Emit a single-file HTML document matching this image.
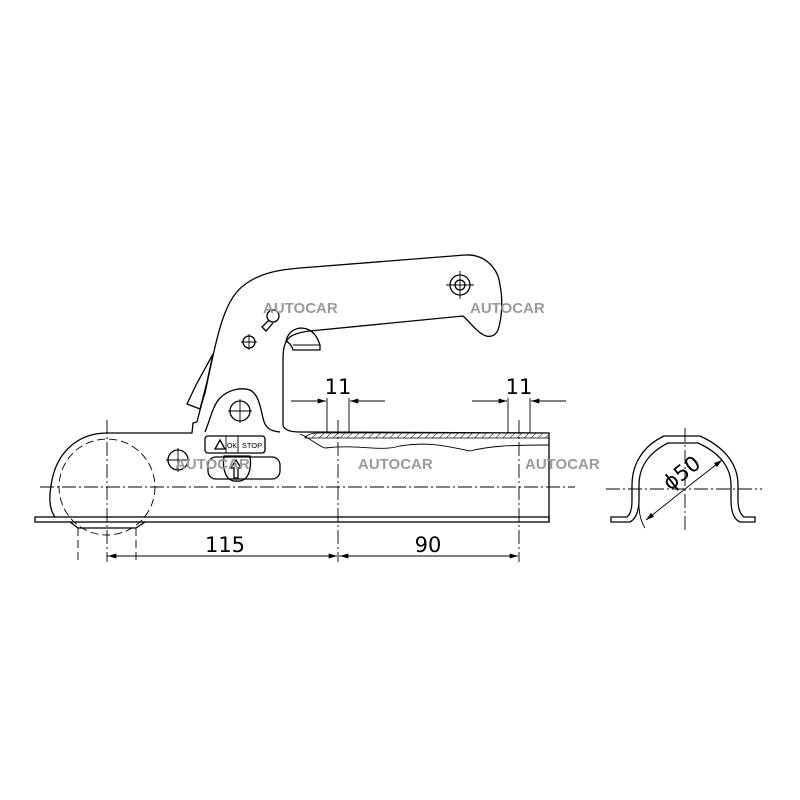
<!DOCTYPE html>
<html><head><meta charset="utf-8"><style>
html,body{margin:0;padding:0;background:#fff;}
svg{display:block;}
.l{fill:none;stroke:#000;stroke-width:1.3;}
.t{fill:none;stroke:#000;stroke-width:0.9;}
.c{fill:none;stroke:#000;stroke-width:0.9;stroke-dasharray:14 3 2 3;}
.d{fill:none;stroke:#000;stroke-width:0.9;stroke-dasharray:8 4;}
.w{font-family:"Liberation Sans",sans-serif;font-weight:bold;font-size:15px;fill:#9a9a9a;}
.n{font-family:"DejaVu Sans","Liberation Sans",sans-serif;font-size:21px;fill:#000;}
</style></head><body>
<svg width="800" height="800" viewBox="0 0 800 800" xmlns="http://www.w3.org/2000/svg">
<defs>
<marker id="a" viewBox="0 0 10 6" refX="10" refY="3" markerWidth="12" markerHeight="5" orient="auto" markerUnits="userSpaceOnUse"><path d="M0,0 L10,3 L0,6 z" fill="#000"/></marker>
<pattern id="h" width="5" height="5" patternUnits="userSpaceOnUse" patternTransform="rotate(45)"><line x1="0" y1="0" x2="0" y2="5" stroke="#000" stroke-width="1"/></pattern>
</defs>

<!-- base plate -->
<rect x="35" y="517" width="514" height="5" class="l"/>
<!-- ball socket below -->
<path class="l" d="M70,522 L78,528 L136,528 L145,522"/>
<line x1="78" y1="528" x2="78" y2="562" class="d"/>
<line x1="136" y1="528" x2="136" y2="562" class="d"/>

<!-- ball -->
<circle cx="107" cy="487" r="48" class="d"/>
<path class="l" d="M55,517 C50,510 48,500 52,480 C58,450 80,433 107,433 L123,433"/>
<path class="l" d="M123,433 L192,433 L193,423 L197,422"/>

<!-- body + handle outline -->
<path class="l" d="M197,422 C200,410 203,398 205,393 C212,360 218,330 225,313 C232,295 240,287 250,281 C262,274 275,270 300,268 L465,255 C485,254 498,268 500,285 C503,300 502,318 498,330 C495,337 488,338 482,334 C475,330 470,322 463,316 L320,330 C305,331 295,333 290,337 C284,342 283,350 283,360 L283,425 C284,430 290,432 300,432"/>
<path class="l" d="M300,432 L549,433 L549,522"/>
<!-- latch -->
<path class="l" d="M213,354 L196,385 L187,404 L200,409 L207,382 Z"/>
<!-- lug -->
<path class="l" d="M205,432 C210,420 213,405 220,398 C228,390 240,387 250,390 C258,394 260,405 263,418 C265,428 270,431 280,432"/>
<!-- tab -->
<path class="l" d="M286,341 C288,333 293,329 300,328 C310,328 316,333 320,345 L320,350 L293,350 C292,346 290,343 286,341 Z"/>
<line x1="293" y1="345" x2="320" y2="345" class="t"/>
<!-- keyhole -->
<circle cx="273" cy="316" r="6" class="l"/>
<path class="l" d="M269,320 L262,327 L266,331 L273,323"/>

<!-- holes -->
<circle cx="460" cy="285" r="10" class="l"/><circle cx="460" cy="285" r="5" class="l"/>
<path class="t" d="M446,285 H474 M460,271 V299"/>
<circle cx="249" cy="342" r="6" class="l"/><path class="t" d="M241,342 H257 M249,334 V350"/>
<circle cx="240" cy="411" r="10" class="l"/><path class="t" d="M228,411 H252 M240,399 V423"/>
<circle cx="178" cy="460" r="10" class="l"/><path class="t" d="M166,460 H190 M178,448 V472"/>

<!-- tube hatch -->
<path d="M305,437 C310,433 315,433 320,433 L549,433 L549,438 L305,438 Z" fill="url(#h)" stroke="#000" stroke-width="0.8"/>
<path class="t" d="M300,434 C310,438 318,446 325,448 C360,444 380,452 400,446 C430,441 450,447 470,451 C490,446 510,445 549,445"/>

<!-- labels -->
<rect x="205" y="436" width="60" height="17" rx="3" class="l"/>
<line x1="226" y1="436" x2="226" y2="453" class="t"/><line x1="238" y1="436" x2="238" y2="453" class="t"/>
<path d="M215,449 L220,440 L225,449 Z" class="l" stroke-width="1.2"/>
<text x="232" y="448" font-family="Liberation Sans,sans-serif" font-size="7" text-anchor="middle">OK</text>
<text x="252" y="448" font-family="Liberation Sans,sans-serif" font-size="7.5" text-anchor="middle">STOP</text>
<rect x="208" y="457" width="72" height="22" rx="8" class="l"/>
<path class="l" d="M224,456 L250,456 C252,470 248,482 237,481 C226,482 222,470 224,456 Z" fill="#fff"/>
<path class="l" d="M234,478 L234,468 L231,468 L236,460 L241,468 L238,468 L238,478 Z"/>

<!-- center lines -->
<line x1="40" y1="487" x2="575" y2="487" class="c"/>
<line x1="107" y1="420" x2="107" y2="562" class="c"/>
<line x1="338" y1="420" x2="338" y2="562" class="c"/>
<line x1="519" y1="420" x2="519" y2="562" class="c"/>

<!-- dims -->
<line x1="107" y1="556" x2="337" y2="556" class="t" marker-end="url(#a)"/>
<line x1="200" y1="556" x2="108" y2="556" class="t" marker-end="url(#a)"/>
<line x1="339" y1="556" x2="518" y2="556" class="t" marker-end="url(#a)"/>
<line x1="420" y1="556" x2="340" y2="556" class="t" marker-end="url(#a)"/>
<text x="225" y="552" class="n" text-anchor="middle">115</text>
<text x="428" y="552" class="n" text-anchor="middle">90</text>

<line x1="327" y1="398" x2="327" y2="433" class="t"/><line x1="349" y1="398" x2="349" y2="433" class="t"/>
<line x1="291" y1="401" x2="326" y2="401" class="t" marker-end="url(#a)"/>
<line x1="385" y1="401" x2="350" y2="401" class="t" marker-end="url(#a)"/>
<text x="338" y="394" class="n" text-anchor="middle">11</text>
<line x1="508" y1="398" x2="508" y2="433" class="t"/><line x1="530" y1="398" x2="530" y2="433" class="t"/>
<line x1="472" y1="401" x2="507" y2="401" class="t" marker-end="url(#a)"/>
<line x1="566" y1="401" x2="531" y2="401" class="t" marker-end="url(#a)"/>
<text x="519" y="394" class="n" text-anchor="middle">11</text>

<!-- section -->
<path class="l" d="M611,517 L627,517 C631,514 632,508 632,500 L632,485 C632,462 645,445 664,436 L700,436 C722,446 738,462 738,485 L738,500 C738,508 740,514 744,517 L755,517 L755,522 L740,522 C733,519 731,510 731,500 L731,485 C731,466 718,452 698,443 L668,443 C650,452 639,466 639,485 L639,500 C639,510 636,519 630,522 L611,522 Z" fill="url(#h)"/>
<line x1="606" y1="489" x2="762" y2="489" class="c"/>
<line x1="685" y1="428" x2="685" y2="530" class="c"/>
<path class="t" d="M645,528 C640,520 639,512 639,505"/>
<line x1="685" y1="489" x2="646" y2="520" class="t" marker-end="url(#a)"/>
<line x1="685" y1="489" x2="722" y2="460" class="t" marker-end="url(#a)"/>
<text x="0" y="0" class="n" transform="translate(670,491) rotate(-38)">ϕ50</text>

<!-- watermarks -->
<text x="263" y="313" class="w">AUTOCAR</text>
<text x="470" y="313" class="w">AUTOCAR</text>
<text x="175" y="469" class="w">AUTOCAR</text>
<text x="358" y="469" class="w">AUTOCAR</text>
<text x="525" y="469" class="w">AUTOCAR</text>
</svg>
</body></html>
